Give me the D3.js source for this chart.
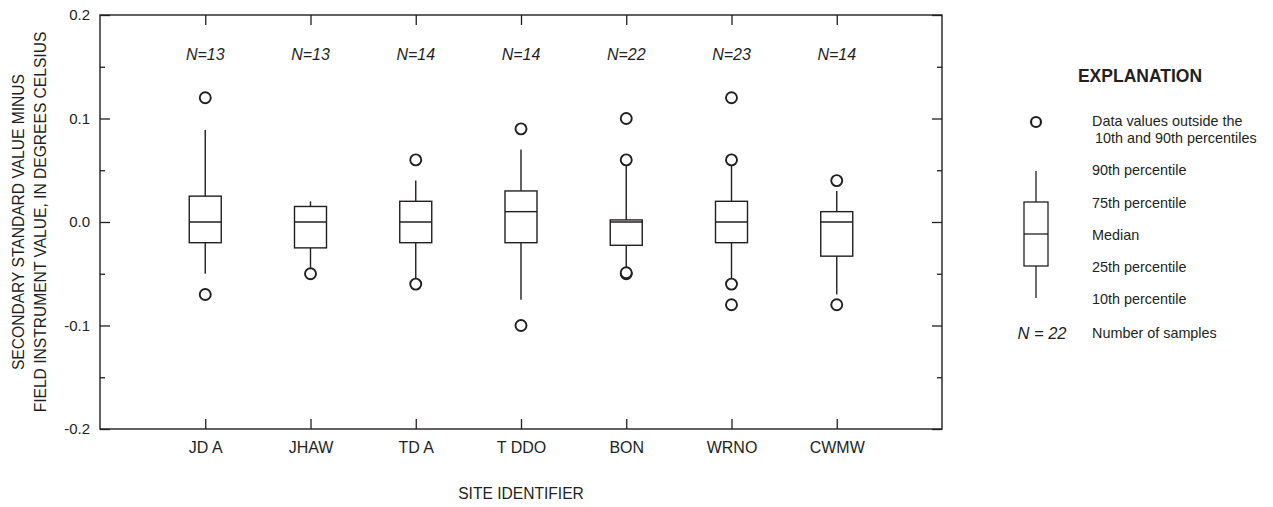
<!DOCTYPE html>
<html>
<head>
<meta charset="utf-8">
<script src="https://cdn.jsdelivr.net/npm/d3@7"></script>
<style>
  body { margin: 0; background: #fff; }
  svg { display: block; }
  text { font-family: "Liberation Sans", Arial, sans-serif; fill: #231f20; }
  .axis path { display: none; }
  .axis line { stroke: #231f20; stroke-width: 1.3; }
</style>
</head>
<body>
<svg id="chart" width="1273" height="507"></svg>
<script>
// site identifiers and sample counts
var sites = ['JD A', 'JHAW', 'TD A', 'T DDO', 'BON', 'WRNO', 'CWMW'];
var counts = [13, 13, 14, 14, 22, 23, 14];

// percentiles (degrees Celsius)
var p10 = [-0.05, -0.045, -0.055, -0.075, -0.045, -0.055, -0.07];
var p25 = [-0.02, -0.025, -0.02, -0.02, -0.0225, -0.02, -0.033];
var p50 = [0, 0, 0, 0.01, 0, 0, 0];
var p75 = [0.025, 0.015, 0.02, 0.03, 0.002, 0.02, 0.01];
var p90 = [0.089, 0.02, 0.04, 0.07, 0.055, 0.055, 0.03];

// values outside the 10th and 90th percentiles
var outliers = [
    [0.12, -0.07],
    [-0.05],
    [0.06, -0.06],
    [0.09, -0.10],
    [0.10, 0.06, -0.05, -0.049],
    [0.12, 0.06, -0.06, -0.08],
    [0.04, -0.08]
];

var majorTicks = [-0.2, -0.1, 0, 0.1, 0.2];
var minorTicks = [-0.15, -0.05, 0.05, 0.15];

var ink = '#231f20';
var plot = { left: 100, right: 942, top: 15, bottom: 429 };
var boxWidth = 32;

var svg = d3.select('#chart');

var x = d3.scalePoint()
    .domain(sites)
    .range([plot.left, plot.right])
    .padding(1);

var y = d3.scaleLinear()
    .domain([-0.2, 0.2])
    .range([plot.bottom, plot.top]);

//Frame
svg.append('rect')
    .attr('x', plot.left)
    .attr('y', plot.top)
    .attr('width', plot.right - plot.left)
    .attr('height', plot.bottom - plot.top)
    .attr('fill', 'none')
    .attr('stroke', ink)
    .attr('stroke-width', 1.4);

//Axes, ticks pointing inward
svg.append('g')
    .attr('class', 'axis')
    .attr('transform', 'translate(' + plot.left + ',0)')
    .call(d3.axisLeft(y).tickValues(majorTicks).tickSize(-10).tickPadding(10)
        .tickFormat(function(d) { return d.toFixed(1).replace('-0.0', '0.0'); }))
    .selectAll('text')
    .style('font-size', '15px');

svg.append('g')
    .attr('class', 'axis')
    .attr('transform', 'translate(' + plot.left + ',0)')
    .call(d3.axisLeft(y).tickValues(minorTicks).tickSize(-5).tickFormat(''));

svg.append('g')
    .attr('class', 'axis')
    .attr('transform', 'translate(' + plot.right + ',0)')
    .call(d3.axisRight(y).tickValues(majorTicks).tickSize(-10).tickFormat(''));

svg.append('g')
    .attr('class', 'axis')
    .attr('transform', 'translate(' + plot.right + ',0)')
    .call(d3.axisRight(y).tickValues(minorTicks).tickSize(-5).tickFormat(''));

svg.append('g')
    .attr('class', 'axis')
    .attr('transform', 'translate(0,' + plot.bottom + ')')
    .call(d3.axisBottom(x).tickSize(-10).tickPadding(13))
    .selectAll('text')
    .style('font-size', '16px');

svg.append('g')
    .attr('class', 'axis')
    .attr('transform', 'translate(0,' + plot.top + ')')
    .call(d3.axisTop(x).tickSize(-10).tickFormat(''));

//Axis titles
var yTitle = svg.append('text')
    .attr('transform', 'translate(0,' + ((plot.top + plot.bottom) / 2) + ') rotate(-90)')
    .attr('text-anchor', 'middle')
    .style('font-size', '15.6px');
yTitle.append('tspan').attr('x', 0).attr('y', 24).text('SECONDARY STANDARD VALUE MINUS');
yTitle.append('tspan').attr('x', 0).attr('y', 45.5).text('FIELD INSTRUMENT VALUE, IN DEGREES CELSIUS');

svg.append('text')
    .attr('x', (plot.left + plot.right) / 2)
    .attr('y', 499)
    .attr('text-anchor', 'middle')
    .style('font-size', '15.6px')
    .text('SITE IDENTIFIER');

//Boxes
var stats = sites.map(function(s, i) {
    return { site: s, n: counts[i], lo: p10[i], q1: p25[i], med: p50[i], q3: p75[i], hi: p90[i], out: outliers[i] };
});

var box = svg.selectAll('.box')
    .data(stats)
    .enter().append('g')
    .attr('class', 'box')
    .attr('stroke', ink)
    .attr('stroke-width', 1.4)
    .attr('fill', 'none');

box.append('line')
    .attr('x1', function(d) { return x(d.site); })
    .attr('x2', function(d) { return x(d.site); })
    .attr('y1', function(d) { return y(d.q3); })
    .attr('y2', function(d) { return y(d.hi); });

box.append('line')
    .attr('x1', function(d) { return x(d.site); })
    .attr('x2', function(d) { return x(d.site); })
    .attr('y1', function(d) { return y(d.q1); })
    .attr('y2', function(d) { return y(d.lo); });

box.append('rect')
    .attr('x', function(d) { return x(d.site) - boxWidth / 2; })
    .attr('y', function(d) { return y(d.q3); })
    .attr('width', boxWidth)
    .attr('height', function(d) { return y(d.q1) - y(d.q3); })
    .attr('fill', '#fff');

box.append('line')
    .attr('x1', function(d) { return x(d.site) - boxWidth / 2; })
    .attr('x2', function(d) { return x(d.site) + boxWidth / 2; })
    .attr('y1', function(d) { return y(d.med); })
    .attr('y2', function(d) { return y(d.med); });

box.selectAll('circle')
    .data(function(d) { return d.out.map(function(v) { return { site: d.site, v: v }; }); })
    .enter().append('circle')
    .attr('cx', function(d) { return x(d.site); })
    .attr('cy', function(d) { return y(d.v); })
    .attr('r', 5.5)
    .attr('fill', '#fff')
    .attr('stroke-width', 1.9);

svg.selectAll('.nlabel')
    .data(stats)
    .enter().append('text')
    .attr('class', 'nlabel')
    .attr('x', function(d) { return x(d.site); })
    .attr('y', 60)
    .attr('text-anchor', 'middle')
    .style('font-size', '16px')
    .style('font-style', 'italic')
    .text(function(d) { return 'N=' + d.n; });

//Explanation
var lg = svg.append('g');
var lgX = 1036, lgText = 1092;

lg.append('text')
    .attr('x', 1140).attr('y', 82)
    .attr('text-anchor', 'middle')
    .style('font-size', '17.5px')
    .style('font-weight', 'bold')
    .text('EXPLANATION');

lg.append('circle')
    .attr('cx', lgX).attr('cy', 122).attr('r', 5)
    .attr('fill', 'none').attr('stroke', ink).attr('stroke-width', 2.2);

lg.append('line')
    .attr('x1', lgX).attr('x2', lgX).attr('y1', 171).attr('y2', 298)
    .attr('stroke', ink).attr('stroke-width', 1.3);
lg.append('rect')
    .attr('x', lgX - 12).attr('y', 202).attr('width', 24).attr('height', 64)
    .attr('fill', '#fff').attr('stroke', ink).attr('stroke-width', 1.3);
lg.append('line')
    .attr('x1', lgX - 12).attr('x2', lgX + 12).attr('y1', 234).attr('y2', 234)
    .attr('stroke', ink).attr('stroke-width', 1.3);

var lgRows = [
    ['Data values outside the', 121, 0],
    ['10th and 90th percentiles', 138, 3],
    ['90th percentile', 170, 0],
    ['75th percentile', 203, 0],
    ['Median', 235, 0],
    ['25th percentile', 267, 0],
    ['10th percentile', 299, 0],
    ['Number of samples', 333, 0]
];
lg.selectAll('.lgrow')
    .data(lgRows)
    .enter().append('text')
    .attr('class', 'lgrow')
    .attr('x', function(d) { return lgText + d[2]; })
    .attr('y', function(d) { return d[1]; })
    .attr('dy', '0.35em')
    .style('font-size', '14.4px')
    .text(function(d) { return d[0]; });

lg.append('text')
    .attr('x', 1042).attr('y', 333).attr('dy', '0.35em')
    .attr('text-anchor', 'middle')
    .style('font-size', '16.5px')
    .style('font-style', 'italic')
    .text('N = 22');
</script>
</body>
</html>
